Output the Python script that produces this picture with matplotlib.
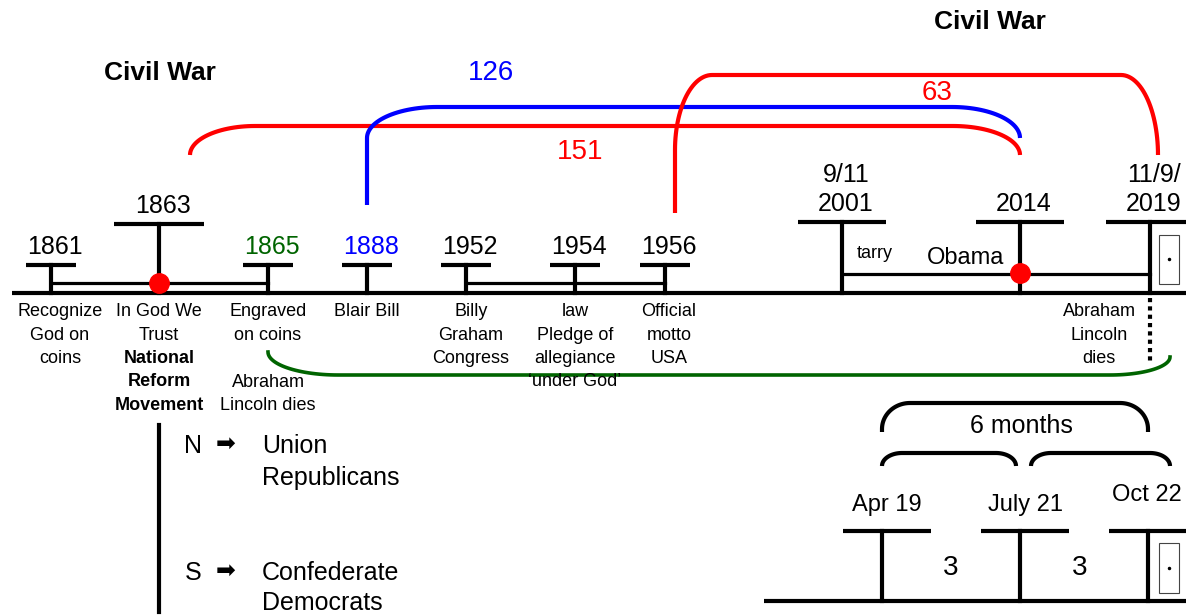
import matplotlib
matplotlib.use("Agg")
import matplotlib.pyplot as plt
from matplotlib.patches import Rectangle
import numpy as np

plt.rcParams['font.family'] = ['Liberation Sans', 'DejaVu Sans']

# timeline events (upper line)
event_years = ['1861', '1863', '1865', '1888', '1952', '1954', '1956', '9/11\n2001', '2014', '11/9/\n2019']
event_x = [51, 159, 268, 367, 466, 575, 665, 842, 1020, 1150]
event_tall = [False, True, False, False, False, False, False, True, True, True]
year_colors = ['black', 'black', 'darkgreen', 'blue', 'black', 'black', 'black', 'black', 'black', 'black']
event_notes = ['Recognize\nGod on\ncoins', 'In God We\nTrust', 'Engraved\non coins', 'Blair Bill',
               'Billy\nGraham\nCongress', 'law\nPledge of\nallegiance\n\u2018under God\u2019',
               'Official\nmotto\nUSA']
note_x = [60, 159, 268, 367, 471, 575, 669]

# spans (years between)
span_labels = ['151', '126', '63']
span_colors = ['red', 'blue', 'red']

# lower timeline
month_labels = ['Apr 19', 'July 21', 'Oct 22']
month_x = [882, 1020, 1148]
month_gaps = ['3', '3']

fig = plt.figure(figsize=(11.86, 6.16), dpi=100)
ax = fig.add_axes([0, 0, 1, 1])
ax.set_xlim(0, 1186)
ax.set_ylim(616, 0)
ax.axis('off')

LW = 3.0


def bracket(x0, y0, x1, y1, ytop, r0, r1, color, lw=LW):
    # vertical up from (x0,y0), rounded corner to horizontal at ytop, down to (x1,y1)
    rx0, ry0 = r0
    rx1, ry1 = r1
    t = np.linspace(0, np.pi / 2, 30)
    xs = [x0, x0]
    ys = [y0, ytop + ry0]
    xs += list(x0 + rx0 - rx0 * np.cos(t))
    ys += list(ytop + ry0 - ry0 * np.sin(t))
    xs += list(x1 - rx1 + rx1 * np.sin(t))
    ys += list(ytop + ry1 - ry1 * np.cos(t))
    xs += [x1]
    ys += [y1]
    ax.plot(xs, ys, color=color, lw=lw, solid_capstyle='butt')


# main axis
ax.plot([12, 1186], [293, 293], color='black', lw=LW, solid_capstyle='butt')

for i, (x, lab) in enumerate(zip(event_x, event_years)):
    if x > 800:
        top = 222
        half = 44
    elif event_tall[i]:
        top = 224
        half = 45
    else:
        top = 265
        half = 25
    ax.plot([x, x], [top, 293], color='black', lw=LW)
    ax.plot([x - half, x + half], [top, top], color='black', lw=LW, solid_capstyle='butt')
    ax.text(x + 4, top - 6, lab, ha='center', va='bottom', fontsize=18, color=year_colors[i],
            linespacing=1.25)

# group connectors
ax.plot([51, 268], [283, 283], color='black', lw=2.3)
ax.plot([466, 665], [283, 283], color='black', lw=2.3)
ax.plot([842, 1150], [274, 274], color='black', lw=2.3)
ax.plot([159], [283], 'o', color='red', ms=14)
ax.plot([1020], [273], 'o', color='red', ms=14)

# box near 2019
ax.add_patch(Rectangle((1159, 235), 20, 49, fill=False, lw=0.8, ec='#444444'))
ax.plot([1169], [259], 'o', color='black', ms=1.5)

ax.text(875, 254, 'tarry', ha='center', va='center', fontsize=13)
ax.text(966, 258, 'Obama', ha='center', va='center', fontsize=17)

# notes below
for x, note in zip(note_x, event_notes):
    ax.text(x, 303, note, ha='center', va='top', fontsize=13, linespacing=1.5)
ax.text(159, 350, 'National\nReform\nMovement', ha='center', va='top', fontsize=13,
        fontweight='bold', linespacing=1.5)
ax.text(268, 374, 'Abraham\nLincoln dies', ha='center', va='top', fontsize=13, linespacing=1.5)
ax.text(1099, 303, 'Abraham\nLincoln\ndies', ha='center', va='top', fontsize=13, linespacing=1.5)

# dotted line
ax.plot([1150, 1150], [298, 362], color='black', lw=3, ls=(0, (1, 1)))

# green curve
t = np.linspace(0, np.pi / 2, 30)
gx = list(268 + 70 * (1 - np.cos(t)))
gy = list(352 + 23 * np.sin(t))
gx += [338, 1110]
gy += [375, 375]
gx += list(1110 + 60 * np.sin(t))
gy += list(357 + 18 * np.cos(t))
ax.plot(gx, gy, color='darkgreen', lw=2.6)

# spans
bracket(190, 155, 1020, 155, 126, (65, 29), (67, 29), span_colors[0])
bracket(367, 205, 1020, 138, 107, (70, 31), (68, 31), span_colors[1])
bracket(675, 213, 1158, 155, 75, (37, 75), (37, 80), span_colors[2])
ax.text(580, 152, span_labels[0], ha='center', va='center', fontsize=20, color=span_colors[0])
ax.text(491, 73, span_labels[1], ha='center', va='center', fontsize=20, color=span_colors[1])
ax.text(937, 93, span_labels[2], ha='center', va='center', fontsize=20, color=span_colors[2])

ax.text(160, 73, 'Civil War', ha='center', va='center', fontsize=19, fontweight='bold')
ax.text(990, 22, 'Civil War', ha='center', va='center', fontsize=19, fontweight='bold')

# N / S
ax.plot([159, 159], [425, 612], color='black', lw=LW)
ax.text(193, 446, 'N', ha='center', va='center', fontsize=18)
ax.text(193, 573, 'S', ha='center', va='center', fontsize=18)
ax.text(226, 444, '\u27a1', ha='center', va='center', fontsize=17, family=['DejaVu Sans'])
ax.text(226, 571, '\u27a1', ha='center', va='center', fontsize=17, family=['DejaVu Sans'])
ax.text(262, 446, 'Union', ha='left', va='center', fontsize=18)
ax.text(262, 478, 'Republicans', ha='left', va='center', fontsize=18)
ax.text(262, 573, 'Confederate', ha='left', va='center', fontsize=18)
ax.text(262, 603, 'Democrats', ha='left', va='center', fontsize=18)

# lower timeline
ax.plot([764, 1186], [601, 601], color='black', lw=LW, solid_capstyle='butt')
for x, lab in zip(month_x, month_labels):
    ax.plot([x, x], [531, 601], color='black', lw=LW)
    ax.plot([x - 39, x + 49], [531, 531], color='black', lw=LW, solid_capstyle='butt')
label_dx = [5, 5, -1]
label_y = [505, 505, 495]
for i, lab in enumerate(month_labels):
    ax.text(month_x[i] + label_dx[i], label_y[i], lab, ha='center', va='center', fontsize=17)
ax.text(951, 568, month_gaps[0], ha='center', va='center', fontsize=20)
ax.text(1080, 568, month_gaps[1], ha='center', va='center', fontsize=20)
ax.add_patch(Rectangle((1159, 543), 20, 50, fill=False, lw=0.8, ec='#444444'))
ax.plot([1169], [568], 'o', color='black', ms=1.5)

bracket(882, 432, 1148, 432, 403, (28, 26), (28, 26), 'black')
bracket(882, 466, 1016, 466, 453, (20, 13), (20, 13), 'black')
bracket(1031, 466, 1170, 466, 453, (20, 13), (20, 13), 'black')
ax.text(1021, 426, '6 months', ha='center', va='center', fontsize=18)

fig.savefig('out.png', dpi=100)
